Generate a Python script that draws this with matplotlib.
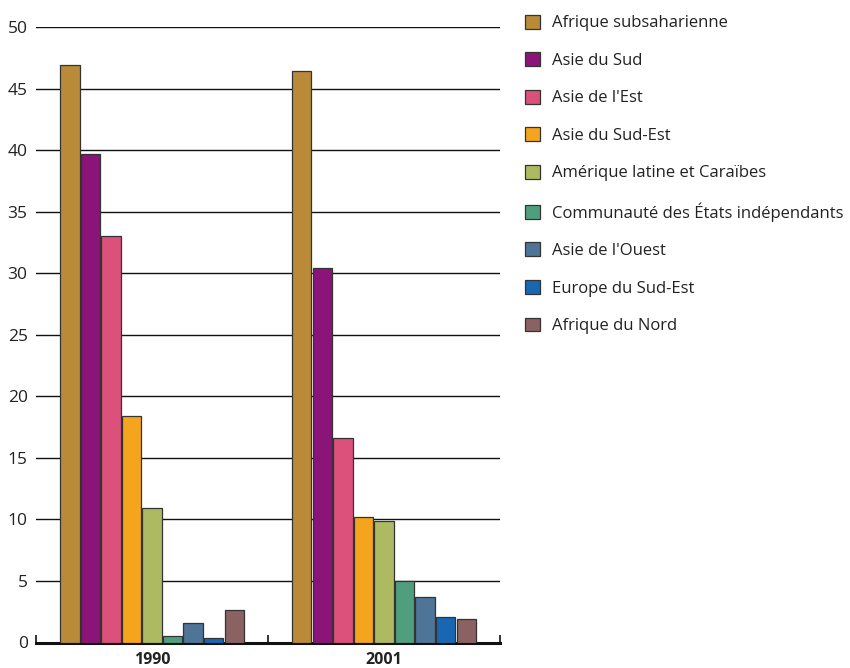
import matplotlib
matplotlib.use("Agg")
import matplotlib.pyplot as plt
import numpy as np

plt.rcParams['font.family'] = ['Open Sans', 'DejaVu Sans']

years = ["1990", "2001"]
regions = [
    "Afrique subsaharienne",
    "Asie du Sud",
    "Asie de l'Est",
    "Asie du Sud-Est",
    "Amérique latine et Caraïbes",
    "Communauté des États indépendants",
    "Asie de l'Ouest",
    "Europe du Sud-Est",
    "Afrique du Nord",
]
values_1990 = [46.9, 39.7, 33.0, 18.4, 10.9, 0.5, 1.6, 0.4, 2.6]
values_2001 = [46.4, 30.4, 16.6, 10.2, 9.9, 5.0, 3.7, 2.1, 1.9]
colors = ["#B98B38", "#8B1478", "#DC507C", "#F5A41E", "#ADBA62",
          "#4F9F7E", "#4E7597", "#1967B3", "#8A6262"]
y_ticks = [0, 5, 10, 15, 20, 25, 30, 35, 40, 45, 50]

fig = plt.figure(figsize=(8.5, 6.68), dpi=100)
ax = fig.add_axes([36 / 850, 1 - 642.5 / 668, 464 / 850, 615.5 / 668])

data = np.array([values_1990, values_2001])
centers = np.arange(len(years)) + 0.5
slot = 0.0885
width = 0.083
n = len(regions)
handles = []
for i, (name, col) in enumerate(zip(regions, colors)):
    xs = centers + (i - (n - 1) / 2) * slot
    b = ax.bar(xs, data[:, i], width=width, color=col, edgecolor="#333333",
               linewidth=0.9, zorder=3, label=name)
    handles.append(b)

ax.set_xlim(0, 2)
ax.set_ylim(0, 50)
ax.set_yticks(y_ticks)
ax.set_yticklabels([str(t) for t in y_ticks], fontsize=12.5, color="#222222")
ax.yaxis.grid(True, color="#111111", linewidth=1.0, zorder=0)
ax.tick_params(axis="y", length=0, pad=6)
ax.set_xticks([0, 1, 2], minor=False)
ax.set_xticklabels([])
ax.tick_params(axis="x", direction="in", length=6, width=1.2, color="#111111")
ax.set_xticks(centers, minor=True)
ax.set_xticklabels(years, minor=True, fontsize=11.5, fontweight="bold", color="#222222")
ax.tick_params(axis="x", which="minor", length=0, pad=7)

for s in ["left", "right", "top"]:
    ax.spines[s].set_visible(False)
ax.spines["bottom"].set_linewidth(2.2)
ax.spines["bottom"].set_color("#111111")
ax.set_axisbelow(True)

leg = fig.legend(handles=handles, labels=regions, loc="upper left",
                 bbox_to_anchor=(518 / 850, 1 - 8 / 668), frameon=False,
                 fontsize=12, handlelength=0.9, handleheight=0.9,
                 handletextpad=0.75, labelspacing=1.25, borderaxespad=0)
for t in leg.get_texts():
    t.set_color("#222222")

fig.savefig("out.png", dpi=100)
